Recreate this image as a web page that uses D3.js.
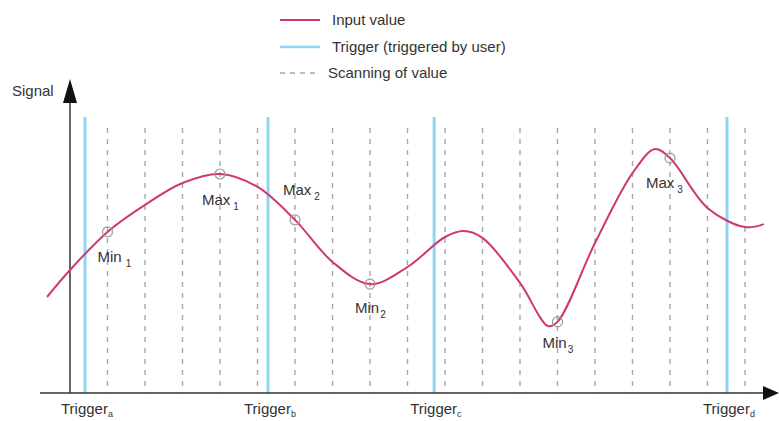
<!DOCTYPE html>
<html><head><meta charset="utf-8">
<script src="https://cdn.jsdelivr.net/npm/d3@7"></script>
<style>
html,body{margin:0;padding:0;background:#fff;}
svg{display:block;font-family:"Liberation Sans",Arial,sans-serif;}
</style></head>
<body><svg id="c" width="779" height="421"></svg>
<script>
// ---- data ----
// input signal: scan time index (t) and signal value
const curveT = [-0.613, 0, 1, 2, 3, 4, 5, 6, 7, 8, 9, 10, 10.5, 11, 12, 12.75, 13, 14, 15, 15.6, 16, 17, 18, 18.5];
const curveV = [32, 41, 53.7, 62.7, 70, 73, 68.7, 57.7, 43.7, 36.3, 42, 52, 54, 51.7, 36.7, 22.3, 23.7, 50, 73.3, 81.3, 78.3, 61.7, 55.3, 56.3];
// scanning instants
const scanT = d3.range(1, 19);
// user triggers
const triggerT = [0.4, 5.28, 9.71, 17.52];
const triggerSubs = ["a", "b", "c", "d"];
// detected extrema (at scan instants)
const extremaT = [1, 4, 6, 8, 13, 16];
const extremaNames = ["Min", "Max", "Max", "Min", "Min", "Max"];
const extremaSubs = ["1", "1", "2", "2", "3", "3"];
// legend
const legendLabels = ["Input value", "Trigger (triggered by user)", "Scanning of value"];

// ---- layout ----
const svg = d3.select("#c");
const x = d3.scaleLinear().domain([0, 18]).range([70, 745]);
const y = d3.scaleLinear().domain([0, 100]).range([393, 93]);
const pink = "#cf3a6a", blue = "#8fd4f2", gray = "#a8a8a8", ink = "#333";
const labelOff = [[-10, 25, 4], [-18, 26, 3], [-12, -30, 3], [-15, 24, 1], [-15, 21, 1], [-24, 25, 3]];

// scanning lines
svg.append("g").selectAll("line").data(scanT).join("line")
  .attr("x1", d => x(d)).attr("x2", d => x(d))
  .attr("y1", 128).attr("y2", y(0))
  .attr("stroke", gray).attr("stroke-width", 1.4).attr("stroke-dasharray", "5,6");

// trigger lines
svg.append("g").selectAll("line").data(triggerT).join("line")
  .attr("x1", d => x(d)).attr("x2", d => x(d))
  .attr("y1", 117).attr("y2", y(0))
  .attr("stroke", blue).attr("stroke-width", 3);

// axes
svg.append("line").attr("x1", x(0)).attr("x2", x(0)).attr("y1", y(0)).attr("y2", 100)
  .attr("stroke", ink).attr("stroke-width", 1.5);
svg.append("path").attr("d", `M${x(0)},79 L${x(0)-7},103 L${x(0)+7},103 Z`).attr("fill", "#111");
svg.append("line").attr("x1", 40).attr("x2", 765).attr("y1", y(0)).attr("y2", y(0))
  .attr("stroke", ink).attr("stroke-width", 1.5);
svg.append("path").attr("d", `M779,${y(0)} L763,${y(0)-7} L763,${y(0)+7} Z`).attr("fill", "#111");

svg.append("text").attr("x", 12).attr("y", 91).attr("dy", "0.35em")
  .attr("font-size", 15).attr("fill", ink).text("Signal");

// curve
const pts = curveT.map((t, i) => [t, curveV[i]]);
const line = d3.line().x(d => x(d[0])).y(d => y(d[1])).curve(d3.curveCatmullRom.alpha(0.5));
svg.append("path").datum(pts).attr("d", line)
  .attr("fill", "none").attr("stroke", pink).attr("stroke-width", 2);

// extrema markers & labels
extremaT.forEach((t, i) => {
  const v = curveV[curveT.indexOf(t)];
  const cx = x(t), cy = y(v);
  svg.append("circle").attr("cx", cx).attr("cy", cy).attr("r", 5)
    .attr("fill", "none").attr("stroke", "#999").attr("stroke-width", 1.2);
  const o = labelOff[i];
  const tx = svg.append("text").attr("x", cx + o[0]).attr("y", cy + o[1]).attr("dy", "0.35em")
    .attr("font-size", 15).attr("fill", ink);
  tx.append("tspan").text(extremaNames[i]);
  tx.append("tspan").attr("dx", o[2]).attr("dy", 5).attr("font-size", 10).text(extremaSubs[i]);
});

// trigger labels
triggerT.forEach((t, i) => {
  const tx = svg.append("text").attr("x", x(t) - 24).attr("y", 409).attr("dy", "0.35em")
    .attr("font-size", 15).attr("fill", ink);
  tx.append("tspan").text("Trigger");
  tx.append("tspan").attr("dy", 3).attr("font-size", 9).text(triggerSubs[i]);
});

// legend
const lg = svg.append("g");
const ly = [20, 47, 73];
lg.append("line").attr("x1", 280).attr("x2", 320).attr("y1", ly[0]).attr("y2", ly[0])
  .attr("stroke", pink).attr("stroke-width", 2);
lg.append("line").attr("x1", 280).attr("x2", 320).attr("y1", ly[1]).attr("y2", ly[1])
  .attr("stroke", blue).attr("stroke-width", 2.5);
lg.append("line").attr("x1", 280).attr("x2", 320).attr("y1", ly[2]).attr("y2", ly[2])
  .attr("stroke", gray).attr("stroke-width", 1.4).attr("stroke-dasharray", "5,5");
legendLabels.forEach((s, i) => {
  lg.append("text").attr("x", i === 2 ? 328 : 332).attr("y", ly[i]).attr("dy", "0.35em")
    .attr("font-size", 15).attr("fill", ink).text(s);
});
</script></body></html>
